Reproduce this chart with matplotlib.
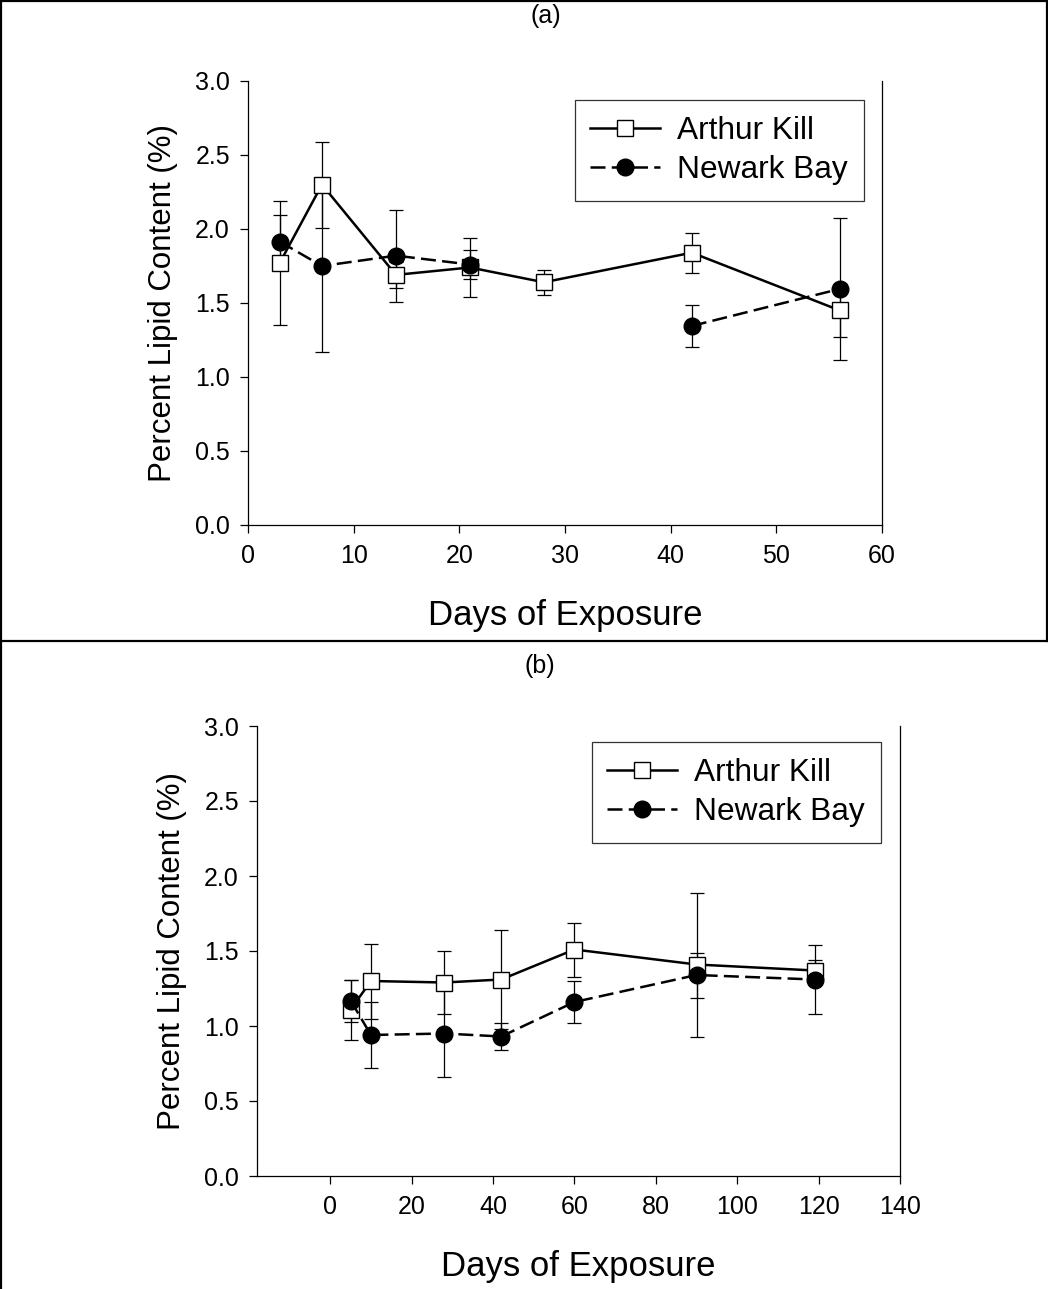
import matplotlib
matplotlib.use("Agg")
import matplotlib.pyplot as plt
from matplotlib.lines import Line2D

plt.rcParams['font.family'] = ['Liberation Sans', 'DejaVu Sans']

nan = float('nan')

# panel (a)
days_a = [3, 7, 14, 21, 28, 42, 56]
lipid_a_ak = [1.77, 2.30, 1.69, 1.74, 1.64, 1.84, 1.45]
err_a_ak = [0.42, 0.29, 0.09, 0.20, 0.085, 0.135, 0.18]
lipid_a_nb = [1.915, 1.75, 1.82, 1.76, nan, 1.345, 1.595]
err_a_nb = [0.18, 0.58, 0.31, 0.095, nan, 0.14, 0.48]

# panel (b)
days_b = [5, 10, 28, 42, 60, 90, 119]
lipid_b_ak = [1.11, 1.30, 1.29, 1.31, 1.51, 1.41, 1.37]
err_b_ak = [0.20, 0.25, 0.21, 0.33, 0.18, 0.48, 0.07]
lipid_b_nb = [1.17, 0.94, 0.95, 0.93, 1.16, 1.34, 1.31]
err_b_nb = [0.14, 0.22, 0.29, 0.09, 0.14, 0.15, 0.23]

W, H = 1048, 1289
fig = plt.figure(figsize=(W / 100, H / 100), dpi=100)


def px_axes(l, t, r, b):
    return fig.add_axes([l / W, 1 - b / H, (r - l) / W, (b - t) / H])


def draw_panel(ax, x, ya, ea, yb, eb, xlim, xticks, leg_right, leg_top):
    ax.errorbar(x, ya, yerr=ea, fmt='none', ecolor='black', elinewidth=0.9,
                capsize=5, capthick=0.9, zorder=2)
    ax.errorbar(x, yb, yerr=eb, fmt='none', ecolor='black', elinewidth=0.9,
                capsize=5, capthick=0.9, zorder=2)
    ax.plot(x, ya, '-', color='black', lw=1.8, marker='s', ms=11,
            mfc='white', mec='black', mew=1.0, label='Arthur Kill', zorder=3)
    ax.plot(x, yb, color='black', lw=1.8, ls=(0, (6, 2.5)), marker='o',
            ms=12, mfc='black', mec='black', label='Newark Bay', zorder=4)
    ax.set_xlim(*xlim)
    ax.set_ylim(0, 3.0)
    ax.set_xticks(xticks)
    ax.set_yticks([0, 0.5, 1.0, 1.5, 2.0, 2.5, 3.0])
    ax.set_yticklabels(['0.0', '0.5', '1.0', '1.5', '2.0', '2.5', '3.0'])
    ax.tick_params(direction='out', length=6, width=0.9, labelsize=18,
                   pad=7)
    ax.tick_params(axis='x', pad=8)
    ax.spines['top'].set_visible(False)
    for s in ['left', 'bottom', 'right']:
        ax.spines[s].set_linewidth(0.9)
    ax.set_xlabel('Days of Exposure', fontsize=25, labelpad=22)
    ax.set_ylabel('Percent Lipid Content (%)', fontsize=22.5, labelpad=12)
    leg = ax.legend(loc='upper right',
                    bbox_to_anchor=(leg_right / W, 1 - leg_top / H),
                    bbox_transform=fig.transFigure, fontsize=22.8,
                    frameon=True, fancybox=False, edgecolor='black',
                    handlelength=2.2, borderaxespad=0, borderpad=0.5,
                    labelspacing=0.3, handletextpad=0.55)
    leg.get_frame().set_linewidth(0.9)


ax1 = px_axes(248, 81, 882, 525)
draw_panel(ax1, days_a, lipid_a_ak, err_a_ak, lipid_a_nb, err_a_nb,
           (0, 60), [0, 10, 20, 30, 40, 50, 60], 864, 100)

ax2 = px_axes(257, 726, 900, 1176)
draw_panel(ax2, days_b, lipid_b_ak, err_b_ak, lipid_b_nb, err_b_nb,
           (-18, 140), [0, 20, 40, 60, 80, 100, 120, 140], 881, 742)

fig.text(546 / W, 1 - 16 / H, '(a)', ha='center', va='center', fontsize=18)
fig.text(540 / W, 1 - 666 / H, '(b)', ha='center', va='center', fontsize=18)


# outer frame lines of the figure
def fig_line(x0, y0, x1, y1):
    fig.add_artist(Line2D([x0 / W, x1 / W], [1 - y0 / H, 1 - y1 / H],
                          color='black', lw=1.6, transform=fig.transFigure))


fig_line(1, 1, 1047, 1)
fig_line(1, 1, 1, 1289)
fig_line(1047, 1, 1047, 641)
fig_line(0, 641, 1048, 641)

fig.savefig('out.png', dpi=100)
